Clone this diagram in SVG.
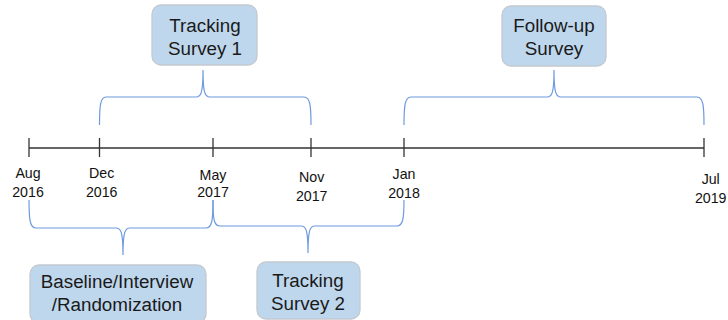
<svg xmlns="http://www.w3.org/2000/svg" width="728" height="320" viewBox="0 0 728 320">
<style>
.box{fill:#bfd7ed;stroke:#c3c9cf;stroke-width:1.3}
.bt{font-family:"Liberation Sans",Arial,sans-serif;font-size:18.8px;fill:#1a1a1a;text-anchor:middle}
.dt{font-family:"Liberation Sans",Arial,sans-serif;font-size:14.2px;fill:#111;text-anchor:middle}
.brace{fill:none;stroke:#6f9ae0;stroke-width:1.2}
.axis{stroke:#333;stroke-width:1.3;fill:none}
</style>
<rect width="728" height="320" fill="#fff"/>
<g id="connectors">
<line class="axis" x1="29" y1="148" x2="704" y2="148"/>
<line class="axis" x1="29" y1="138" x2="29" y2="157"/>
<line class="axis" x1="99.5" y1="138" x2="99.5" y2="157"/>
<line class="axis" x1="213" y1="138" x2="213" y2="157"/>
<line class="axis" x1="311" y1="138" x2="311" y2="157"/>
<line class="axis" x1="404" y1="138" x2="404" y2="157"/>
<line class="axis" x1="704" y1="138" x2="704" y2="157"/>
<path class="brace" d="M99.5,125 C99.5,105 100.5,97 106,97 L196,97 C201,97 203,93 203,70 C203,93 205,97 210,97 L304,97 C310,97 311,105 311,125"/>
<path class="brace" d="M404,125 C404,105 405,97 411,97 L547,97 C552,97 554,93 554,70 C554,93 556,97 561,97 L697,97 C703,97 704,105 704,125"/>
<path class="brace" d="M29,200 C29,220 30,228 36,228 L116,228 C121,228 123,232 123,255 C123,232 125,228 130,228 L206,228 C212,228 213,220 213,200"/>
<path class="brace" d="M213,200 C213,220 214,226 220,226 L301,226 C306,226 308,230 308,253 C308,230 310,226 315,226 L397,226 C403,226 404,218 404,200"/>
</g>
<g id="tracking1">
<rect class="box" x="152" y="5" width="105" height="60" rx="9"/>
<text class="bt" x="205" y="32">Tracking</text>
<text class="bt" x="205" y="55">Survey 1</text>
</g>
<g id="followup">
<rect class="box" x="502" y="6" width="104" height="60" rx="9"/>
<text class="bt" x="554" y="32">Follow-up</text>
<text class="bt" x="554" y="55">Survey</text>
</g>
<g id="baseline">
<rect class="box" x="30" y="265" width="176" height="58" rx="9"/>
<text class="bt" x="117" y="288">Baseline/Interview</text>
<text class="bt" x="117" y="310.5">/Randomization</text>
</g>
<g id="tracking2">
<rect class="box" x="257" y="262" width="103" height="57" rx="9"/>
<text class="bt" x="308" y="286.5">Tracking</text>
<text class="bt" x="308" y="310">Survey 2</text>
</g>
<g id="dates">
<text class="dt" x="28" y="178">Aug</text><text class="dt" x="28" y="197">2016</text>
<text class="dt" x="101.7" y="178">Dec</text><text class="dt" x="101.7" y="197">2016</text>
<text class="dt" x="213" y="179.5">May</text><text class="dt" x="213" y="197">2017</text>
<text class="dt" x="311.7" y="182">Nov</text><text class="dt" x="311.7" y="200.5">2017</text>
<text class="dt" x="404" y="179">Jan</text><text class="dt" x="404" y="198">2018</text>
<text class="dt" x="710.7" y="184">Jul</text><text class="dt" x="710.7" y="202.5">2019</text>
</g>
</svg>
